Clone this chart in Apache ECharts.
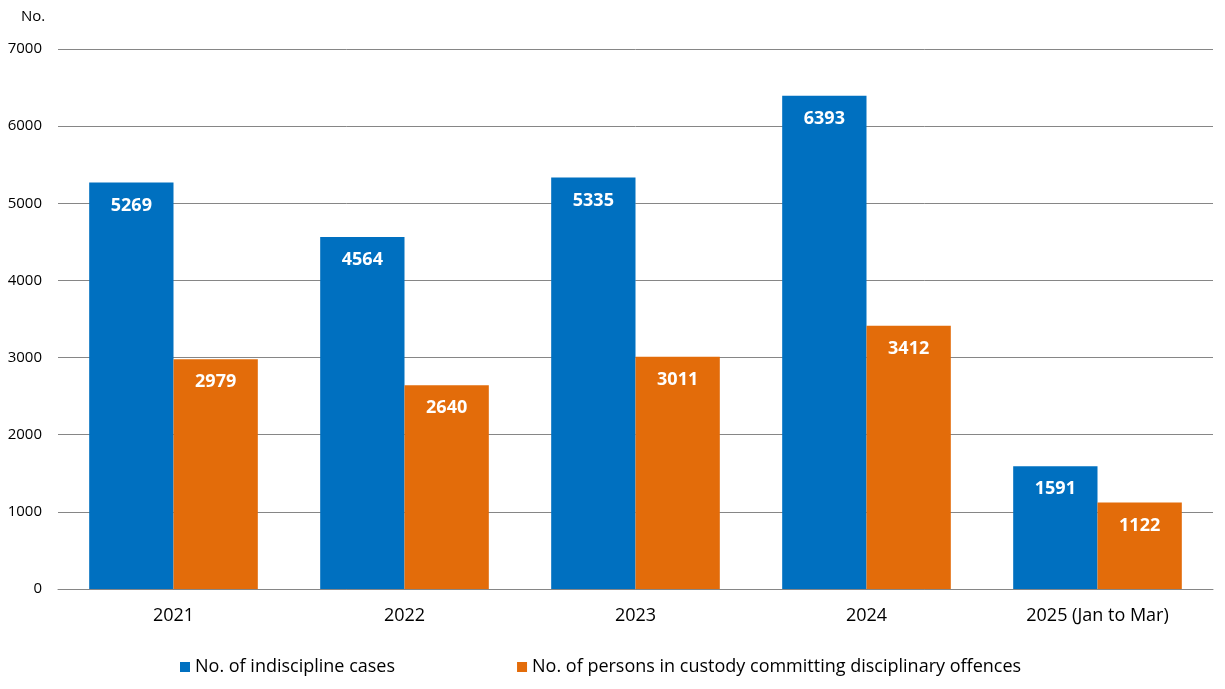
<!DOCTYPE html>
<html>
<head>
<meta charset="utf-8">
<script src="https://cdn.jsdelivr.net/npm/echarts@6/dist/echarts.min.js"></script>
<style>
  html, body { margin: 0; padding: 0; background: #fff; }
  #chart { width: 1225px; height: 689px; }
</style>
</head>
<body>
<div id="chart"></div>
<script>
var years = ['2021', '2022', '2023', '2024', '2025 (Jan to Mar)'];
var cases = [5269, 4564, 5335, 6393, 1591];
var persons = [2979, 2640, 3011, 3412, 1122];
var seriesNames = ['No. of indiscipline cases', 'No. of persons in custody committing disciplinary offences'];

var font = '"Open Sans", sans-serif';

var label_style = {
    show: true,
    position: 'insideTop',
    distance: 14,
    color: '#fff',
    fontWeight: 'bold',
    fontSize: 18,
    fontFamily: font
};

var option = {
    animation: false,
    textStyle: { fontFamily: font },
    grid: {
        left: 58,
        right: 12,
        top: 49,
        bottom: 100
    },
    legend: {
        left: 175,
        top: 653,
        itemWidth: 10,
        itemHeight: 10,
        itemGap: 122,
        icon: 'rect',
        textStyle: { fontSize: 18, color: '#000', fontFamily: font },
        data: seriesNames
    },
    graphic: [{
        type: 'text',
        left: 21,
        top: 9,
        style: { text: 'No.', fontSize: 15, fill: '#000', fontFamily: font }
    }],
    xAxis: {
        type: 'category',
        data: years,
        axisTick: { show: false },
        axisLine: { lineStyle: { color: '#868686' } },
        axisLabel: { color: '#000', fontSize: 18, margin: 18, fontFamily: font }
    },
    yAxis: {
        type: 'value',
        min: 0,
        max: 7000,
        interval: 1000,
        axisLine: { show: false },
        axisTick: { show: false },
        axisLabel: {
            color: '#000', fontSize: 15, margin: 16, fontFamily: font,
            formatter: function (v) { return String(v); }
        },
        splitLine: { lineStyle: { color: '#868686' } }
    },
    series: [
        {
            name: seriesNames[0],
            type: 'bar',
            data: cases,
            barGap: '0%',
            barCategoryGap: '27%',
            itemStyle: { color: '#0070C0' },
            label: label_style
        },
        {
            name: seriesNames[1],
            type: 'bar',
            data: persons,
            itemStyle: { color: '#E36C0A' },
            label: label_style
        }
    ]
};

var chart = echarts.init(document.getElementById('chart'));
chart.setOption(option);
</script>
</body>
</html>
